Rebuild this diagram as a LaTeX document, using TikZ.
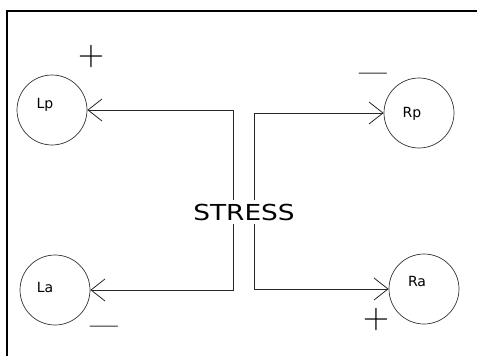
\documentclass[tikz,border=0pt]{standalone}
\usepackage{fontspec}
\usepackage{tikz}
\usetikzlibrary{arrows.meta}
\newfontfamily\diagfont{DejaVu Sans}
\tikzset{
  blob/.style  = {draw=black!80, circle, minimum size=70pt, inner sep=0pt, line width=0.7pt},
  lbl/.style   = {font=\diagfont\fontsize{14}{14}\selectfont, text height=10pt, text depth=0pt, inner sep=0pt},
  flow/.style  = {-{Straight Barb[length=14pt,width=22pt]}, line width=0.8pt, draw=black!85},
  plus/.style  = {inner sep=0pt, font=\fontsize{36}{36}\selectfont},
  minus/.style = {inner sep=0pt, font=\fontsize{25}{25}\selectfont\bfseries},
}

\begin{document}
\begin{tikzpicture}[x=1pt,y=-1pt]
  \useasboundingbox (0,0) rectangle (477,356);
  \draw[line width=2pt] (7,356) -- (7,11) -- (477,11);

  \node[font=\diagfont\fontsize{22}{22}\selectfont, text height=16pt, text depth=0pt,
        inner xsep=0pt, inner ysep=4pt] (stress) at (244,212) {\scalebox{1.2}[1]{STRESS}};

  \node[blob, label={[lbl,xshift=-7pt,yshift=7pt]center:Lp}] (lp) at (52,110) {};
  \node[blob, label={[lbl,xshift=-7pt,yshift=1pt]center:Rp}] (rp) at (419,113) {};
  \node[blob, label={[lbl,xshift=-10pt,yshift=3pt]center:La}] (la) at (55,290) {};
  \node[blob, label={[lbl,xshift=-7pt,yshift=8pt]center:Ra}] (ra) at (424,289) {};

  \coordinate (lx) at (233,0);
  \coordinate (rx) at (254,0);
  \draw[flow] (stress.north -| lx) |- (lp);
  \draw[flow] (stress.south -| lx) |- (la);
  \draw[flow] (stress.north -| rx) |- (rp);
  \draw[flow] (stress.south -| rx) |- (ra);

  % signs
  \node[plus] (plp) at (91,57) {+};
  \node[minus] (mrp) at (373,77) {—};
  \node[minus] (mla) at (104,330) {—};
  \node[plus] (pra) at (376,320) {+};
\end{tikzpicture}
\end{document}
